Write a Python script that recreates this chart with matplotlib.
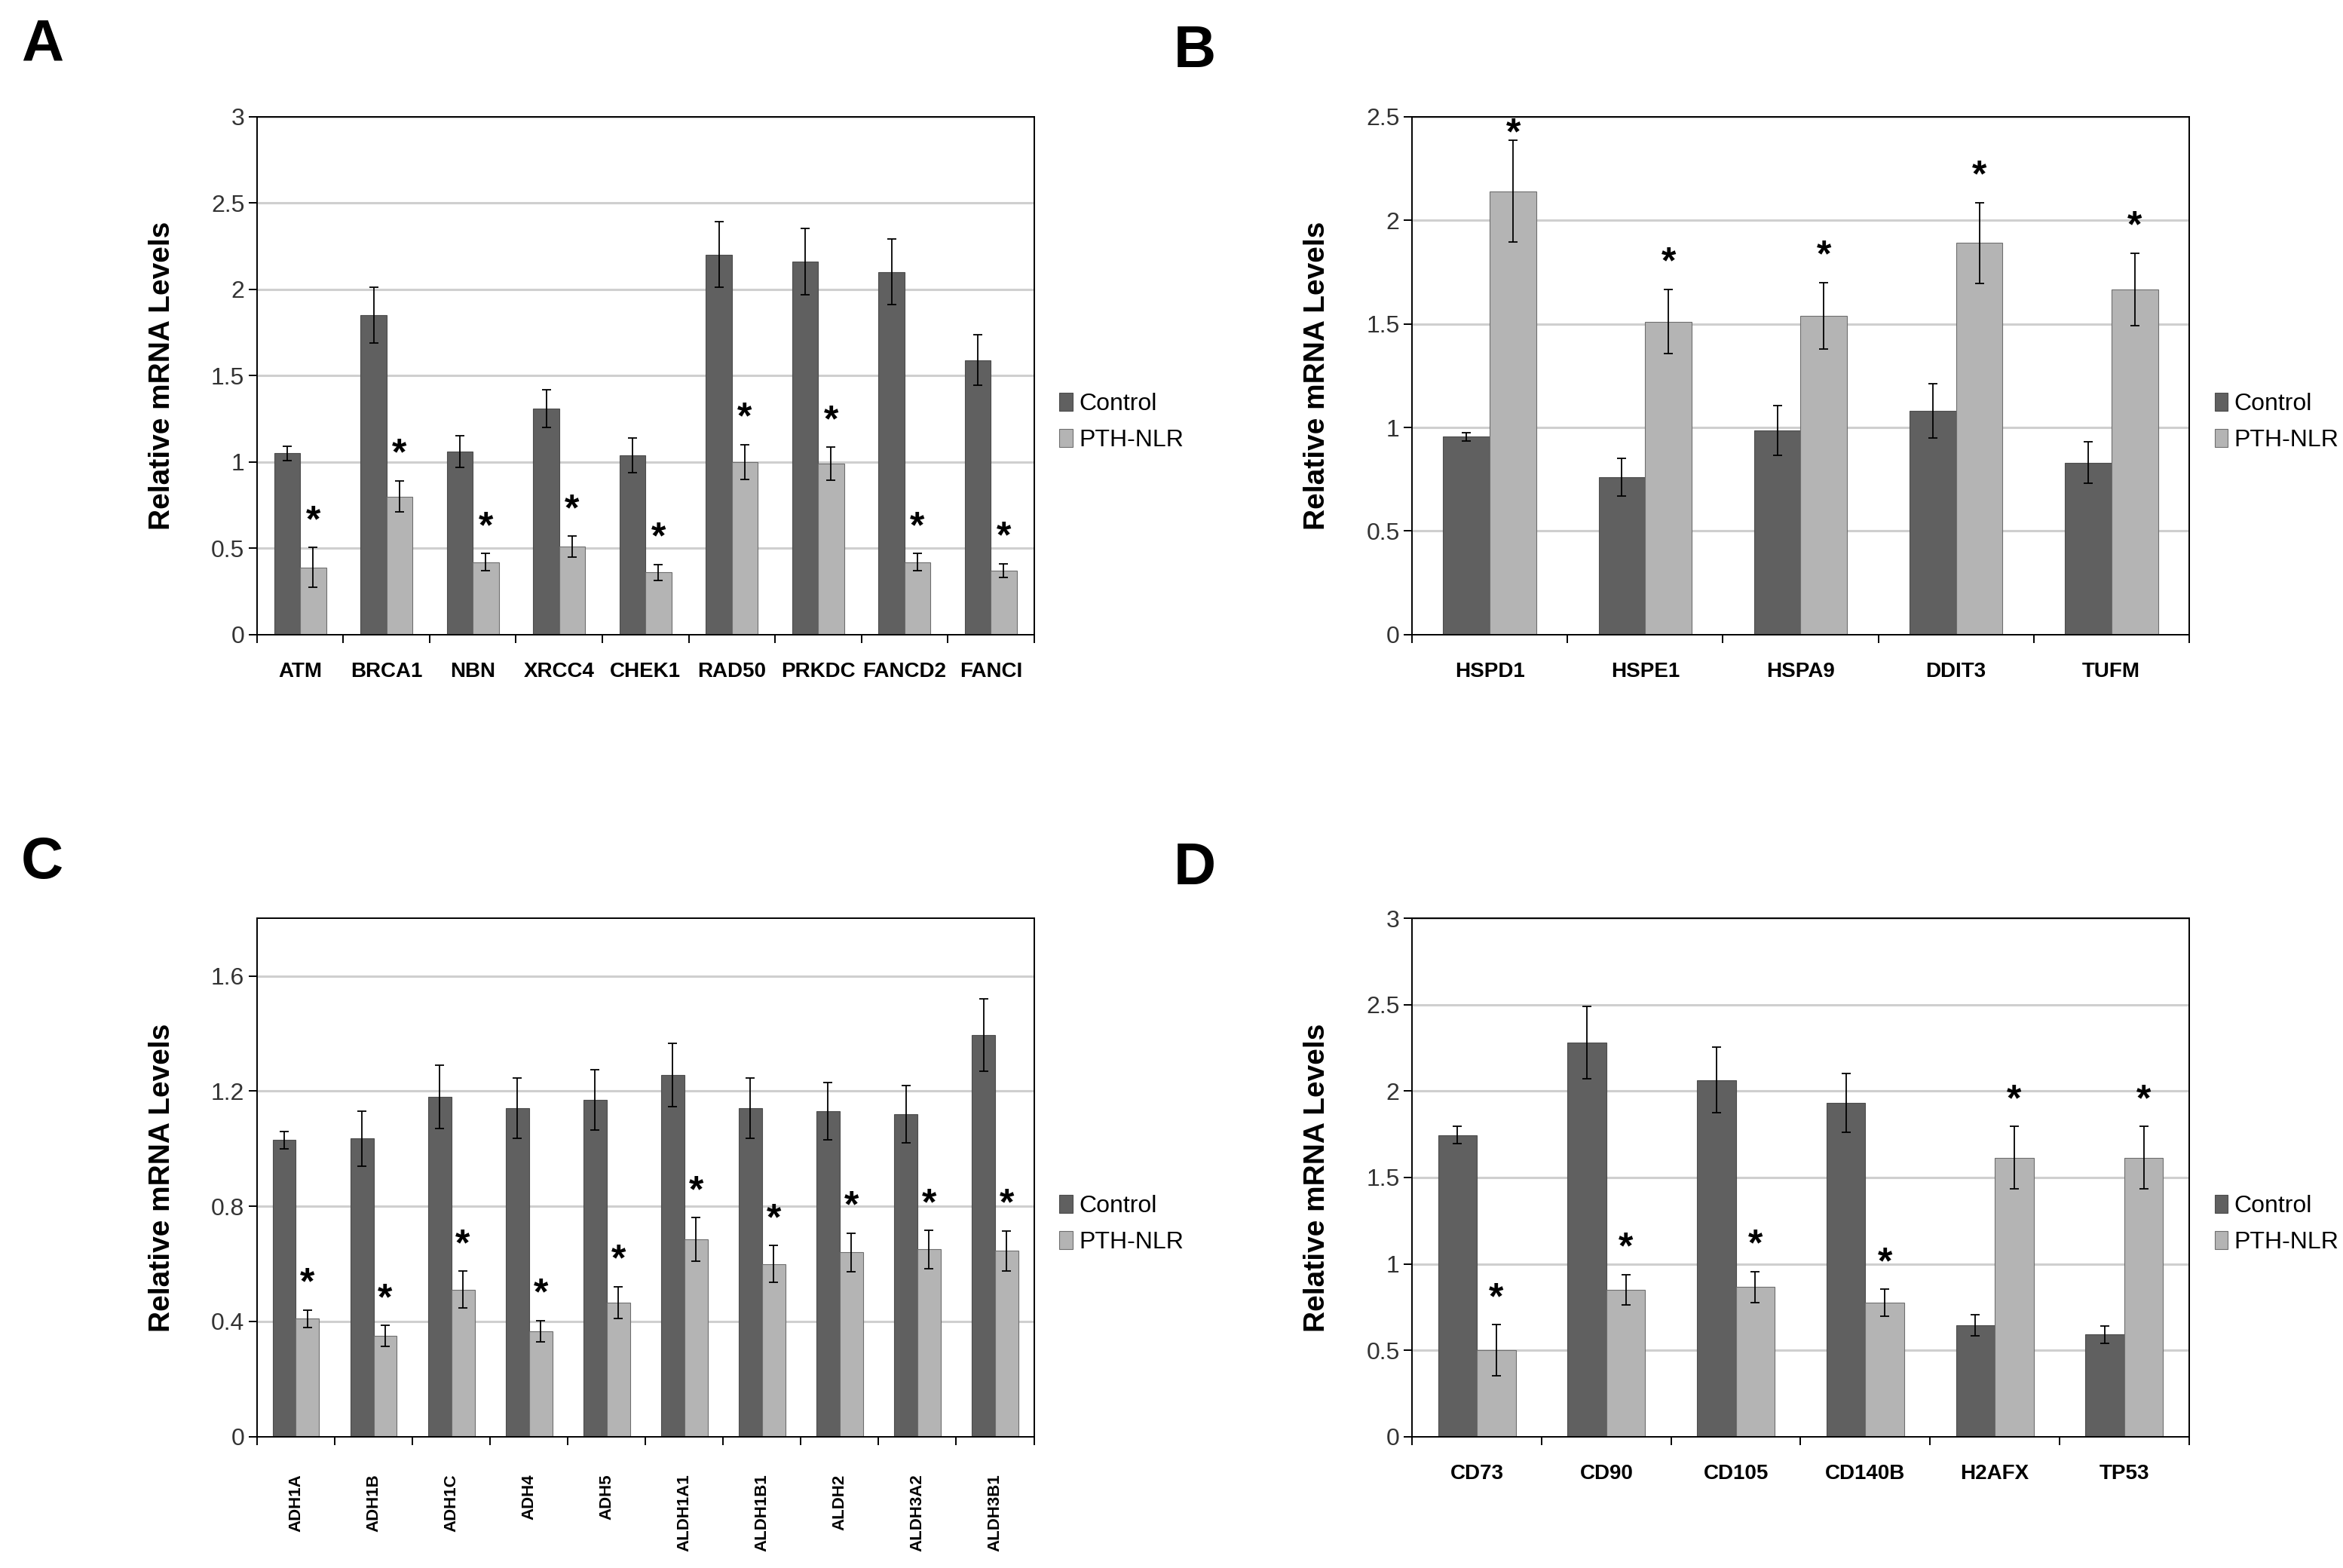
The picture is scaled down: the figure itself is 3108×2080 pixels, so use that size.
import numpy as np
import matplotlib
matplotlib.use("Agg")
import matplotlib.pyplot as plt

# panel A - DNA repair genes
genes_a = ["ATM", "BRCA1", "NBN", "XRCC4", "CHEK1", "RAD50", "PRKDC", "FANCD2", "FANCI"]
ctrl_a = [1.05, 1.85, 1.06, 1.31, 1.04, 2.20, 2.16, 2.10, 1.59]
ctrl_a_err = [0.04, 0.16, 0.09, 0.11, 0.10, 0.19, 0.19, 0.19, 0.145]
pth_a = [0.39, 0.80, 0.42, 0.51, 0.36, 1.00, 0.99, 0.42, 0.37]
pth_a_err = [0.115, 0.09, 0.05, 0.06, 0.045, 0.10, 0.095, 0.05, 0.04]
star_a = [1, 1, 1, 1, 1, 1, 1, 1, 1]

# panel B - heat shock / mito genes
genes_b = ["HSPD1", "HSPE1", "HSPA9", "DDIT3", "TUFM"]
ctrl_b = [0.955, 0.76, 0.985, 1.08, 0.83]
ctrl_b_err = [0.02, 0.09, 0.12, 0.13, 0.10]
pth_b = [2.14, 1.51, 1.54, 1.89, 1.665]
pth_b_err = [0.245, 0.155, 0.16, 0.195, 0.175]
star_b = [1, 1, 1, 1, 1]

# panel C - ADH / ALDH genes
genes_c = ["ADH1A", "ADH1B", "ADH1C", "ADH4", "ADH5", "ALDH1A1", "ALDH1B1", "ALDH2", "ALDH3A2", "ALDH3B1"]
ctrl_c = [1.03, 1.035, 1.18, 1.14, 1.17, 1.255, 1.14, 1.13, 1.12, 1.395]
ctrl_c_err = [0.03, 0.095, 0.11, 0.105, 0.105, 0.11, 0.105, 0.10, 0.10, 0.125]
pth_c = [0.41, 0.35, 0.51, 0.365, 0.465, 0.685, 0.60, 0.64, 0.65, 0.645]
pth_c_err = [0.03, 0.036, 0.064, 0.037, 0.055, 0.075, 0.063, 0.067, 0.066, 0.07]
star_c = [1, 1, 1, 1, 1, 1, 1, 1, 1, 1]

# panel D - surface markers etc
genes_d = ["CD73", "CD90", "CD105", "CD140B", "H2AFX", "TP53"]
ctrl_d = [1.745, 2.28, 2.065, 1.93, 0.645, 0.59]
ctrl_d_err = [0.05, 0.21, 0.19, 0.17, 0.06, 0.05]
pth_d = [0.50, 0.85, 0.865, 0.775, 1.615, 1.615]
pth_d_err = [0.147, 0.087, 0.09, 0.078, 0.18, 0.18]
star_d = [1, 1, 1, 1, 1, 1]

CTRL_COLOR = "#606060"
PTH_COLOR = "#b4b4b4"
NARROW = ["Liberation Sans Narrow", "Liberation Sans", "DejaVu Sans"]
ARIAL = ["Liberation Sans", "DejaVu Sans"]


def draw_panel(ax, genes, ctrl, ctrl_err, pth, pth_err, stars, ymax, yticks, ylabels, rotate=False):
    x = np.arange(len(genes))
    w = 0.3
    ax.set_axisbelow(True)
    for yt in yticks[1:]:
        ax.axhline(yt, color="#cfcfcf", lw=2.2, zorder=0)
    ax.bar(x - w / 2, ctrl, w, color=CTRL_COLOR, edgecolor="#4c4c4c", lw=0.8,
           label="Control", zorder=2)
    ax.bar(x + w / 2, pth, w, color=PTH_COLOR, edgecolor="#6e6e6e", lw=0.8,
           label="PTH-NLR", zorder=2)
    ax.errorbar(x - w / 2, ctrl, yerr=ctrl_err, fmt="none", ecolor="black",
                elinewidth=1.3, capsize=4, capthick=1.3, zorder=3)
    ax.errorbar(x + w / 2, pth, yerr=pth_err, fmt="none", ecolor="black",
                elinewidth=1.3, capsize=4, capthick=1.3, zorder=3)
    for xi, p, e, s in zip(x, pth, pth_err, stars):
        if s:
            y = min(p + e + 0.05 * ymax, ymax - 0.035 * ymax)
            ax.text(xi + w / 2, y, "*", ha="center", va="center", fontsize=36,
                    fontweight="bold", family=ARIAL, zorder=4)

    ax.set_xlim(-0.5, len(genes) - 0.5)
    ax.set_ylim(0, ymax)
    ax.set_yticks(yticks)
    ax.set_yticklabels(ylabels, family=NARROW, fontsize=23, color="#333333")
    ax.set_xticks(np.arange(len(genes) + 1) - 0.5)
    ax.set_xticklabels([])
    ax.set_xticks(x, minor=True)
    if rotate:
        ax.set_xticklabels(genes, minor=True, rotation=90, family=ARIAL,
                           fontsize=16, fontweight="bold")
        ax.tick_params(axis="x", which="minor", length=0, pad=36)
    else:
        ax.set_xticklabels(genes, minor=True, family=NARROW, fontsize=20,
                           fontweight="bold")
        ax.tick_params(axis="x", which="minor", length=0, pad=26)
    ax.tick_params(axis="x", which="major", length=8, width=1.4, direction="out")
    ax.tick_params(axis="y", length=8, width=1.4, direction="out", pad=4)
    for sp in ax.spines.values():
        sp.set_linewidth(1.4)
        sp.set_color("black")
    ax.set_ylabel("Relative mRNA Levels", family=ARIAL, fontsize=28, fontweight="bold")
    ax.yaxis.set_label_coords(-0.105, 0.5)
    ax.legend(loc="center left", bbox_to_anchor=(1.005, 0.41), frameon=False,
              prop={"family": NARROW, "size": 23}, handlelength=0.55,
              handleheight=0.8, handletextpad=0.25, labelspacing=0.55)


fig = plt.figure(figsize=(31.08, 20.8), dpi=100)
ax_a = fig.add_axes([0.1097, 0.5952, 0.3316, 0.3305])
ax_b = fig.add_axes([0.6027, 0.5952, 0.3316, 0.3305])
ax_c = fig.add_axes([0.1097, 0.0838, 0.3316, 0.3305])
ax_d = fig.add_axes([0.6027, 0.0838, 0.3316, 0.3305])

draw_panel(ax_a, genes_a, ctrl_a, ctrl_a_err, pth_a, pth_a_err, star_a, 3,
           [0, 0.5, 1, 1.5, 2, 2.5, 3], ["0", "0.5", "1", "1.5", "2", "2.5", "3"])
draw_panel(ax_b, genes_b, ctrl_b, ctrl_b_err, pth_b, pth_b_err, star_b, 2.5,
           [0, 0.5, 1, 1.5, 2, 2.5], ["0", "0.5", "1", "1.5", "2", "2.5"])
draw_panel(ax_c, genes_c, ctrl_c, ctrl_c_err, pth_c, pth_c_err, star_c, 1.8,
           [0, 0.4, 0.8, 1.2, 1.6], ["0", "0.4", "0.8", "1.2", "1.6"], rotate=True)
draw_panel(ax_d, genes_d, ctrl_d, ctrl_d_err, pth_d, pth_d_err, star_d, 3,
           [0, 0.5, 1, 1.5, 2, 2.5, 3], ["0", "0.5", "1", "1.5", "2", "2.5", "3"])

for lab, (fx, fy) in zip("ABCD", [(0.018, 0.971), (0.51, 0.967), (0.018, 0.45), (0.51, 0.446)]):
    fig.text(fx, fy, lab, ha="center", va="center", fontsize=56, fontweight="bold",
             family=ARIAL)

fig.savefig("out.png", dpi=100, facecolor="white")
